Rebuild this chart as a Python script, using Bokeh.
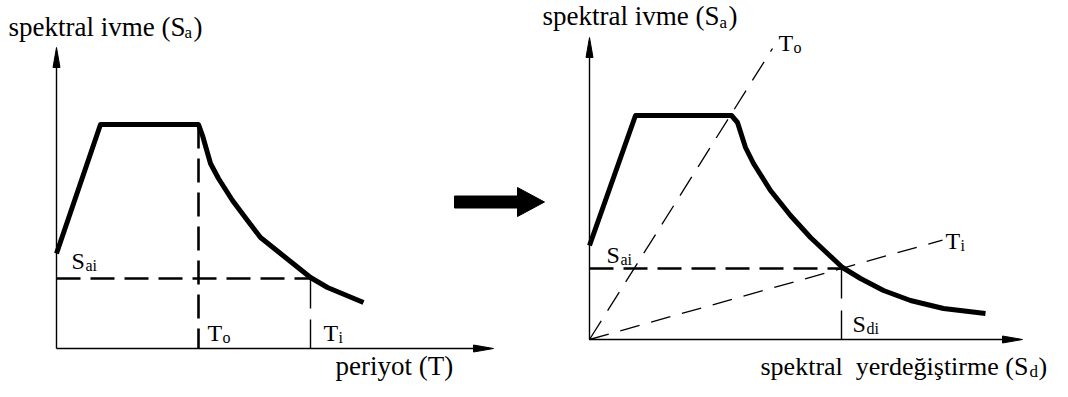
from bokeh.plotting import figure
from bokeh.models import Range1d
from bokeh.core.properties import value
from bokeh.embed import file_html
from bokeh.resources import INLINE

# ---------------- data (schematic units, 1 unit = axis scale step) ----------------
# Left panel: acceleration spectrum Sa(T)
left_T = [0.00, 0.44, 1.42, 1.46, 1.54, 1.62, 1.76, 1.91, 2.04, 2.24, 2.39, 2.54, 2.71, 3.07]
left_Sa = [0.95, 2.24, 2.24, 2.13, 1.85, 1.70, 1.48, 1.28, 1.11, 0.95, 0.83, 0.71, 0.61, 0.46]
left_To = 1.42
left_Ti = 2.54
left_Sai = 0.70
left_axis_T = 4.37
left_axis_Sa = 3.01

# Right panel: acceleration-displacement spectrum Sa(Sd)
right_Sd = [0.00, 0.46, 1.42, 1.48, 1.56, 1.64, 1.81, 2.01, 2.21, 2.38, 2.53, 2.71, 2.94, 3.21, 3.54, 3.96]
right_Sa = [0.94, 2.24, 2.24, 2.17, 1.92, 1.76, 1.49, 1.24, 1.02, 0.86, 0.72, 0.61, 0.49, 0.39, 0.31, 0.26]
right_Sdi = 2.52
right_Sai = 0.71
right_To_Sd = 1.83
right_To_Sa = 2.91
right_Ti_Sd = 3.53
right_axis_Sd = 4.33
right_axis_Sa = 3.02

# Labels
lbl_sa = "spektral ivme (S"
lbl_T = "periyot (T)"
lbl_sd = "spektral\u00a0 yerdeğiştirme (S"

FONT = value("Liberation Serif")
INK = "#000000"

p = figure(width=1052, height=381, output_backend="svg", toolbar_location=None,
           x_range=Range1d(-0.56, 9.96), y_range=Range1d(-0.33, 3.48),
           x_axis_location=None, y_axis_location=None, min_border=0,
           outline_line_color=None, background_fill_color="white",
           border_fill_color="white")
p.extra_x_ranges = {"rx": Range1d(-5.89, 4.63)}
p.extra_y_ranges = {"ry": Range1d(-0.42, 3.39)}
p.grid.visible = False

R = dict(x_range_name="rx", y_range_name="ry")
HL, HW = 0.20, 0.035  # axis arrow head length / half width


def axes(xlen, ylen, **kw):
    p.line([0, 0], [0, ylen - 0.05], line_color=INK, line_width=1.4, **kw)
    p.line([0, xlen - 0.05], [0, 0], line_color=INK, line_width=1.4, **kw)
    p.patch([0, -HW, HW], [ylen, ylen - HL, ylen - HL], color=INK, **kw)
    p.patch([xlen, xlen - HL, xlen - HL], [0, HW, -HW], color=INK, **kw)


def label(x, y, s, size, **kw):
    # small upward correction so that the glyph baseline lands on y
    y = y + 0.30 * size / 100.0
    p.text(x=[x], y=[y], text=[s], text_font=FONT, text_font_size=f"{size}px",
           text_color=INK, text_baseline="alphabetic", text_align="left", **kw)


# ---------------- left panel ----------------
axes(left_axis_T, left_axis_Sa)
p.line([0, left_Ti], [left_Sai, left_Sai], line_color=INK, line_width=2.6, line_dash="24 10")
p.line([left_To, left_To], [left_Sa[2], 0], line_color=INK, line_width=2.6, line_dash="24 10")
p.line([left_Ti, left_Ti], [left_Sai, 0], line_color=INK, line_width=1.4, line_dash="30 11 40")
p.line(left_T, left_Sa, line_color=INK, line_width=5, line_join="round")

label(-0.48, 3.13, lbl_sa, 27)
label(1.28, 3.11, "a", 17)
label(1.37, 3.13, ")", 27)
label(0.15, 0.80, "S", 24)
label(0.29, 0.78, "ai", 16)
label(1.51, 0.08, "T", 24)
label(1.66, 0.06, "o", 16)
label(2.67, 0.08, "T", 24)
label(2.82, 0.06, "i", 16)
label(2.79, -0.26, lbl_T, 27)

# ---------------- big arrow (left-panel coordinates) ----------------
ax0, ax1, ahead, ay = 3.98, 4.88, 4.61, 1.465
p.patch([ax0, ahead, ahead, ax1, ahead, ahead, ax0],
        [ay + 0.06, ay + 0.06, ay + 0.145, ay, ay - 0.145, ay - 0.06, ay - 0.06],
        color=INK)

# ---------------- right panel ----------------
axes(right_axis_Sd, right_axis_Sa, **R)
p.line([0, right_To_Sd], [0, right_To_Sa], line_color=INK, line_width=1.3, line_dash="22 12", **R)
p.line([0, right_Ti_Sd], [0, right_Ti_Sd * right_Sai / right_Sdi], line_color=INK,
       line_width=1.3, line_dash="20 12", **R)
p.line([0, right_Sdi], [right_Sai, right_Sai], line_color=INK, line_width=2.6, line_dash="24 10", **R)
p.line([right_Sdi, right_Sdi], [right_Sai, 0], line_color=INK, line_width=1.4, line_dash="30 12 40", **R)
p.line(right_Sd, right_Sa, line_color=INK, line_width=5, line_join="round", **R)

label(-0.47, 3.15, lbl_sa, 27, **R)
label(1.30, 3.12, "a", 17, **R)
label(1.39, 3.15, ")", 27, **R)
label(1.89, 2.89, "T", 24, **R)
label(2.04, 2.87, "o", 16, **R)
label(0.17, 0.77, "S", 24, **R)
label(0.31, 0.75, "ai", 16, **R)
label(3.56, 0.91, "T", 24, **R)
label(3.71, 0.89, "i", 16, **R)
label(2.63, 0.08, "S", 24, **R)
label(2.77, 0.06, "di", 16, **R)
label(1.71, -0.35, lbl_sd, 26, **R)
label(4.40, -0.37, "d", 17, **R)
label(4.49, -0.35, ")", 26, **R)

open("out.html", "w").write(file_html(p, INLINE))
